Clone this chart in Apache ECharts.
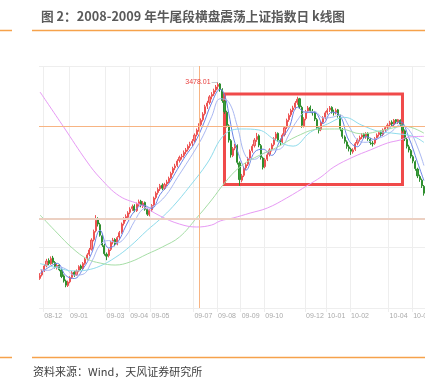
<!DOCTYPE html>
<html>
<head>
<meta charset="utf-8">
<script src="https://cdn.jsdelivr.net/npm/echarts@6/dist/echarts.min.js"></script>
<style>
  html, body { margin: 0; padding: 0; background: #fff; }
  #chart { position: absolute; left: 0; top: 0; width: 425px; height: 381px; }
</style>
</head>
<body>
<div id="chart"></div>
<script>
// 2-day bars, [open, close, low, high]
const bars = [
  [1890,1915,1878,1932],[1918,1950,1905,1962],[1955,1990,1942,2004],[1992,2030,1980,2048],[2035,2010,1996,2052],
  [2008,2050,2000,2068],[2055,2020,2008,2072],[2018,1985,1970,2030],[1980,1995,1962,2012],[1998,1960,1948,2006],
  [1958,1905,1892,1968],[1910,1870,1856,1922],[1868,1835,1818,1880],[1832,1860,1820,1872],[1862,1895,1850,1908],
  [1898,1935,1886,1950],[1940,1920,1902,1952],[1918,1950,1910,1962],[1952,1985,1940,1996],[1990,1970,1955,2002],
  [1968,2010,1960,2022],[2012,2045,2000,2058],[2048,2080,2036,2094],[2085,2120,2070,2136],[2125,2200,2115,2215],
  [2205,2270,2190,2285],[2275,2360,2262,2402],[2365,2330,2310,2385],[2325,2240,2228,2340],[2235,2160,2145,2250],
  [2155,2090,2075,2170],[2085,2070,2037,2100],[2075,2120,2060,2132],[2125,2180,2112,2192],[2185,2200,2165,2218],
  [2205,2170,2150,2215],[2168,2220,2158,2232],[2225,2260,2210,2274],[2265,2330,2252,2342],[2335,2370,2318,2385],
  [2375,2390,2352,2408],[2385,2420,2372,2434],[2425,2450,2410,2466],[2455,2470,2436,2488],[2475,2440,2426,2490],
  [2438,2490,2428,2504],[2495,2510,2474,2528],[2515,2480,2466,2526],[2478,2500,2460,2516],[2505,2450,2438,2512],
  [2448,2410,2396,2460],[2405,2440,2392,2452],[2445,2480,2430,2492],[2485,2540,2472,2552],[2545,2580,2530,2594],
  [2585,2610,2568,2626],[2615,2640,2598,2655],[2645,2620,2604,2660],[2618,2650,2606,2664],[2655,2670,2636,2688],
  [2672,2700,2660,2714],[2705,2740,2692,2754],[2745,2780,2730,2794],[2785,2800,2766,2818],[2805,2840,2790,2855],
  [2845,2870,2828,2884],[2875,2880,2852,2898],[2885,2910,2868,2926],[2915,2930,2896,2946],[2935,2960,2918,2975],
  [2965,2980,2946,2996],[2985,3000,2962,3018],[3005,3050,2990,3064],[3055,3090,3040,3104],[3095,3130,3078,3146],
  [3135,3170,3118,3186],[3175,3220,3160,3236],[3225,3280,3210,3296],[3285,3310,3262,3328],[3315,3360,3298,3374],
  [3365,3380,3340,3398],[3385,3410,3368,3426],[3415,3440,3398,3456],[3445,3460,3420,3478.01],[3465,3420,3402,3472],
  [3418,3330,3312,3430],[3325,3240,3222,3338],[3235,3130,3112,3248],[3125,3010,2990,3138],[3005,2890,2868,3018],
  [2885,2940,2872,2954],[2945,2960,2928,2980],[2965,2830,2812,2975],[2825,2690,2639,2838],[2685,2720,2668,2736],
  [2725,2780,2710,2794],[2785,2810,2768,2826],[2815,2860,2800,2874],[2865,2920,2850,2934],[2925,2960,2908,2976],
  [2965,3010,2950,3026],[3015,3040,2996,3068],[3045,2970,2952,3056],[2965,2870,2852,2978],[2865,2790,2772,2876],
  [2795,2850,2782,2864],[2855,2890,2840,2904],[2895,2930,2878,2944],[2935,2970,2918,2984],[2975,3020,2960,3034],
  [3025,3060,3008,3076],[3065,3010,2994,3072],[3005,2990,2968,3022],[2995,3050,2982,3064],[3055,3110,3040,3124],
  [3115,3170,3100,3184],[3175,3210,3158,3226],[3215,3250,3198,3264],[3255,3270,3236,3288],[3275,3310,3258,3326],
  [3315,3340,3296,3361],[3345,3280,3262,3352],[3275,3130,3110,3288],[3125,3180,3112,3196],[3185,3240,3170,3254],
  [3245,3270,3228,3286],[3275,3250,3232,3290],[3245,3230,3208,3262],[3235,3180,3164,3246],[3175,3110,3094,3188],
  [3105,3090,3064,3122],[3095,3150,3082,3164],[3155,3190,3140,3204],[3195,3230,3178,3244],[3235,3250,3216,3268],
  [3255,3270,3238,3286],[3275,3240,3224,3284],[3235,3230,3208,3256],[3235,3250,3218,3266],[3255,3210,3192,3262],
  [3205,3100,3082,3216],[3095,3040,3022,3108],[3035,3000,2982,3048],[2995,2960,2940,3008],[2955,2940,2918,2972],
  [2935,2920,2890,2948],[2915,2930,2900,2944],[2935,2980,2922,2994],[2985,3010,2968,3024],[3015,3030,2996,3046],
  [3035,3050,3018,3066],[3055,3040,3022,3068],[3035,3060,3020,3074],[3065,3020,3004,3072],[3015,2990,2972,3028],
  [2985,2980,2958,3002],[2985,3020,2972,3034],[3025,3050,3010,3064],[3055,3070,3038,3084],[3075,3060,3044,3088],
  [3055,3090,3042,3104],[3095,3110,3078,3124],[3115,3130,3098,3146],[3135,3150,3118,3166],[3155,3140,3122,3170],
  [3135,3170,3124,3181],[3175,3160,3142,3180],[3155,3175,3140,3181],[3170,3140,3124,3178],[3135,3090,3072,3146],
  [3085,3020,3002,3096],[3015,2960,2942,3028],[2955,2930,2910,2972],[2925,2880,2862,2938],[2875,2840,2822,2888],
  [2835,2780,2762,2846],[2775,2720,2702,2786],[2715,2690,2672,2730],[2685,2640,2622,2698],[2635,2580,2560,2646]
];

// moving averages, [bar index, value]
const ma10 = [[0,1930],[4,1979],[8,2012],[12,1913],[16,1889],[20,1967],[24,2091],[28,2280],[32,2136],[36,2178],
  [40,2314],[44,2434],[48,2484],[52,2456],[56,2570],[60,2656],[64,2772],[68,2886],[72,2984],[76,3132],[80,3310],
  [84,3422],[86,3378],[88,3226],[90,3042],[92,2926],[94,2828],[96,2766],[100,2912],[104,2936],[108,2886],[112,3010],
  [116,3106],[120,3276],[124,3234],[128,3234],[132,3144],[136,3236],[140,3206],[144,3008],[148,2956],[152,3038],
  [156,3014],[160,3058],[164,3124],[168,3157],[172,3028],[176,2830],[179,2682]];
const ma20 = [[0,1960],[4,1955],[8,1985],[12,1966],[16,1916],[20,1923],[24,2022],[28,2163],[32,2196],[36,2178],
  [40,2231],[44,2352],[48,2452],[52,2467],[56,2513],[60,2593],[64,2705],[68,2812],[72,2922],[76,3044],[80,3199],
  [84,3345],[88,3318],[92,3121],[96,2876],[100,2854],[104,2901],[108,2928],[112,2938],[116,3052],[120,3171],
  [124,3238],[128,3241],[132,3189],[136,3194],[140,3212],[144,3124],[148,3009],[152,2992],[156,3018],[160,3038],
  [164,3080],[168,3133],[172,3094],[176,2954],[179,2804]];
const ma60 = [[0,2010],[8,1975],[16,1950],[22,1958],[28,1990],[35,2058],[42,2150],[50,2280],[56,2370],[62,2473],
  [70,2640],[78,2824],[86,3054],[94,3100],[102,3092],[110,3007],[118,2961],[126,3073],[134,3140],[142,3194],
  [150,3131],[158,3080],[166,3063],[174,3040],[179,2991]];
const ma120 = [[0,2403],[8,2257],[15,2136],[22,2047],[28,2014],[35,1998],[42,2023],[50,2087],[57,2144],[65,2225],
  [73,2379],[80,2525],[86,2662],[93,2790],[100,2867],[110,2947],[120,3043],[130,3098],[140,3100],[150,3060],
  [160,3090],[170,3122],[179,3066]];
const ma250 = [[0,3399],[11,3116],[22,2832],[28,2703],[37,2557],[47,2484],[56,2395],[65,2330],[73,2306],[80,2322],
  [84,2355],[90,2379],[98,2419],[106,2460],[115,2541],[125,2646],[131,2711],[137,2792],[146,2873],[154,2930],
  [162,2986],[168,3011],[172,3035],[179,3040]];

// month ticks shown on the axis
const monthStarts = [2, 14, 31, 42, 52, 72, 83, 94, 105, 124, 134, 145, 163, 174];
const monthLabels = ['08-12','09-01','09-03','09-04','09-05','09-07','09-08','09-09','09-10','09-12','10-01','10-02','10-04','10-05'];

const peakIndex = 83;
const peakValue = 3478.01;
const crossIndex = 74;

const categories = bars.map((b, i) => i);
const isMonth = (i) => monthStarts.indexOf(i) >= 0;

function maSeries(data, color) {
  return {
    type: 'line',
    data: data,
    smooth: 0.4,
    symbol: 'none',
    silent: true,
    lineStyle: { color: color, width: 1 }
  };
}

const chart = echarts.init(document.getElementById('chart'));

chart.setOption({
  animation: false,
  backgroundColor: '#fff',
  title: {
    text: '图 2：2008-2009 年牛尾段横盘震荡上证指数日 k线图',
    left: 41,
    top: 10,
    padding: 0,
    textStyle: { fontSize: 12.7, fontWeight: 'bold', color: '#5a5a5a', fontFamily: 'Noto Sans CJK SC' }
  },
  graphic: [
    { type: 'line', shape: { x1: 0, y1: 30.5, x2: 12, y2: 30.5 }, style: { stroke: '#f6a24b', lineWidth: 1.5 } },
    { type: 'line', shape: { x1: 32, y1: 30.5, x2: 425, y2: 30.5 }, style: { stroke: '#f6a24b', lineWidth: 1.5 } },
    { type: 'line', shape: { x1: 0, y1: 357.5, x2: 12, y2: 357.5 }, style: { stroke: '#f6a24b', lineWidth: 1.5 } },
    { type: 'line', shape: { x1: 32, y1: 357.5, x2: 425, y2: 357.5 }, style: { stroke: '#f6a24b', lineWidth: 1.5 } },
    {
      type: 'text', left: 33, top: 366,
      style: { text: '资料来源：Wind，天风证券研究所', fill: '#404040', font: '11px "Noto Sans CJK SC"' }
    }
  ],
  grid: { left: 39, right: 0, top: 66, bottom: 73, outerBoundsMode: 'none' },
  xAxis: {
    type: 'category',
    data: categories,
    boundaryGap: true,
    axisLine: { show: false },
    axisTick: { show: true, interval: (i) => isMonth(i), length: 4, lineStyle: { color: '#eeeeee' } },
    splitLine: { show: true, interval: (i) => isMonth(i), lineStyle: { color: '#eeeeee' } },
    axisLabel: {
      interval: (i) => isMonth(i),
      formatter: (v, i) => monthLabels[monthStarts.indexOf(i)],
      align: 'left',
      fontSize: 7,
      color: '#aaaaaa',
      margin: 5
    }
  },
  yAxis: [
    { type: 'value', min: 1650, max: 3610, show: false, splitLine: { show: false } },
    {
      type: 'value', min: 0, max: 4, interval: 1,
      axisLabel: { show: false }, axisLine: { show: false }, axisTick: { show: false },
      splitLine: { lineStyle: { color: '#eeeeee' } }
    }
  ],
  series: [
    {
      type: 'candlestick',
      data: bars,
      barWidth: '75%',
      itemStyle: {
        color: '#f59090', color0: '#3c9c3c',
        borderColor: '#ec5252', borderColor0: '#2f8f2f', borderWidth: 1
      },
      markLine: {
        silent: true,
        symbol: 'none',
        label: { show: false },
        lineStyle: { color: '#f7b483', width: 1, type: 'solid' },
        data: [
          [
            { coord: [crossIndex, 3610] },
            { coord: [crossIndex, 1650] }
          ],
          { yAxis: 3120 },
          { yAxis: 2371, lineStyle: { color: '#ecd0c2', width: 2, type: 'solid' } },
          [
            { coord: [peakIndex - 3, peakValue], lineStyle: { color: '#9aa6b2', width: 0.6, type: 'solid' } },
            { coord: [peakIndex, peakValue] }
          ]
        ]
      },
      markPoint: {
        silent: true,
        data: [{
          coord: [peakIndex, peakValue],
          symbol: 'circle', symbolSize: 1,
          itemStyle: { color: 'rgba(0,0,0,0)' },
          label: { show: true, position: 'left', distance: 7, formatter: '3478.01', color: '#e8403f', fontSize: 7 }
        }]
      },
      markArea: {
        silent: true,
        itemStyle: { color: 'rgba(0,0,0,0)', borderColor: '#f04a4a', borderWidth: 3 },
        data: [[{ coord: [86, 3383] }, { coord: [169, 2650] }]]
      }
    },
    maSeries(ma10, '#6b84e6'),
    maSeries(ma20, '#aab8f2'),
    maSeries(ma60, '#8fdcec'),
    maSeries(ma120, '#a6dea6'),
    maSeries(ma250, '#e79af5')
  ]
});
</script>
</body>
</html>
